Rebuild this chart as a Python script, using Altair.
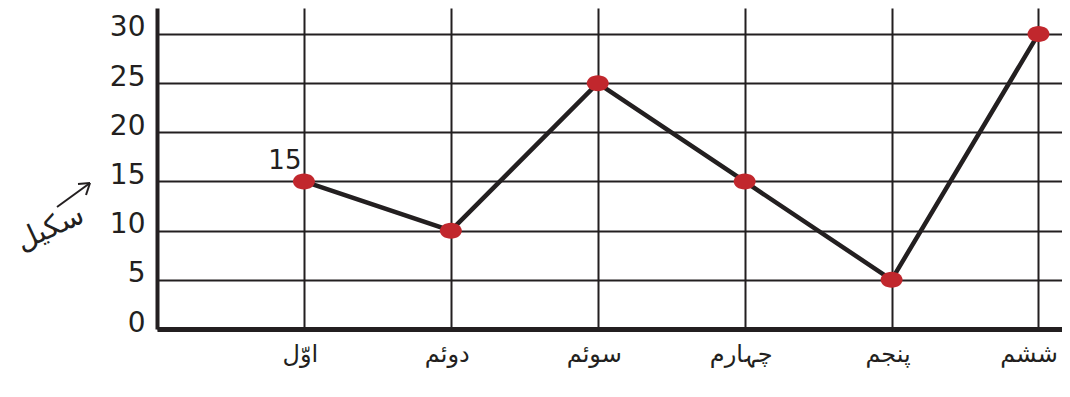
import altair as alt
import pandas as pd

# ---- data ----
categories = ["اوّل", "دوئم", "سوئم", "چہارم", "پنجم", "ششم"]
values = [15, 10, 25, 15, 5, 30]
y_ticks = [0, 5, 10, 15, 20, 25, 30]
annot_index = [0]
annot_text = ["15"]
side_label = ["سکیل"]

INK = "#231f20"
RED = "#c1272d"
FONT = "DejaVu Sans"

df = pd.DataFrame({"idx": list(range(len(categories))), "cat": categories, "value": values})
ann = pd.DataFrame({"idx": annot_index,
                    "value": [values[i] for i in annot_index],
                    "text": annot_text})
side = pd.DataFrame({"text": side_label})
one = pd.DataFrame({"k": [0]})

label_expr = "[" + ",".join("'" + c + "'" for c in categories) + "][datum.value]"
last_idx = len(categories) - 1

ELLIPSE = ("M1,0 C1,0.4015 0.5523,0.727 0,0.727 C-0.5523,0.727 -1,0.4015 -1,0 "
           "C-1,-0.4015 -0.5523,-0.727 0,-0.727 C0.5523,-0.727 1,-0.4015 1,0 Z")

x_enc = alt.X(
    "idx:Q",
    scale=alt.Scale(domain=[-1, 5.16], nice=False, zero=False),
    axis=alt.Axis(
        values=list(range(len(categories))), labelExpr=label_expr, title=None,
        grid=True, gridColor=INK, gridWidth=2, gridOpacity=1,
        ticks=False, tickSize=0, domainColor=INK, domainWidth=5,
        labelFont=FONT, labelFontSize=24, labelColor=INK, labelPadding=13,
        labelBaseline="top",
        labelOffset=alt.condition(f"datum.value == {last_idx}", alt.value(-10), alt.value(-4)),
    ),
)
y_enc = alt.Y(
    "value:Q",
    scale=alt.Scale(domain=[0, 32.64], nice=False, zero=True),
    axis=alt.Axis(
        values=y_ticks, title=None,
        grid=True, gridColor=INK, gridWidth=2, gridOpacity=1,
        ticks=False, tickSize=0, domainColor=INK, domainWidth=4,
        labelFont=FONT, labelFontSize=28, labelColor=INK, labelPadding=12,
        labelBaseline="alphabetic", labelOffset=2,
    ),
)

base = alt.Chart(df)
line = base.mark_line(color=INK, strokeWidth=4.5).encode(x=x_enc, y=y_enc)
points = base.mark_point(shape=ELLIPSE, filled=True, size=484, color=RED,
                         opacity=1, strokeWidth=0).encode(x="idx:Q", y="value:Q")
annot = alt.Chart(ann).mark_text(font=FONT, fontSize=26, color=INK, align="center",
                                 baseline="alphabetic", dx=-19, dy=-12).encode(
    x="idx:Q", y="value:Q", text="text:N")

side_text = alt.Chart(side).mark_text(font=FONT, fontSize=29, color=INK, align="center",
                                      baseline="middle", angle=335).encode(
    x=alt.value(-107), y=alt.value(220), text="text:N")

arrow_shaft = alt.Chart(one).mark_rule(color=INK, strokeWidth=2).encode(
    x=alt.value(-100), x2=alt.value(-67), y=alt.value(199), y2=alt.value(175))
arrow_head1 = alt.Chart(one).mark_rule(color=INK, strokeWidth=2).encode(
    x=alt.value(-67), x2=alt.value(-79), y=alt.value(175), y2=alt.value(176))
arrow_head2 = alt.Chart(one).mark_rule(color=INK, strokeWidth=2).encode(
    x=alt.value(-67), x2=alt.value(-71), y=alt.value(175), y2=alt.value(187))

chart = alt.layer(line, points, annot, side_text, arrow_shaft, arrow_head1, arrow_head2).properties(
    width=905, height=321,
    autosize=alt.AutoSizeParams(type="none"),
    padding={"left": 149, "top": 0, "right": 0, "bottom": 55},
    background="white",
).configure_view(strokeWidth=0)

chart.save("out.html", embed_options={"renderer": "svg", "actions": False})
